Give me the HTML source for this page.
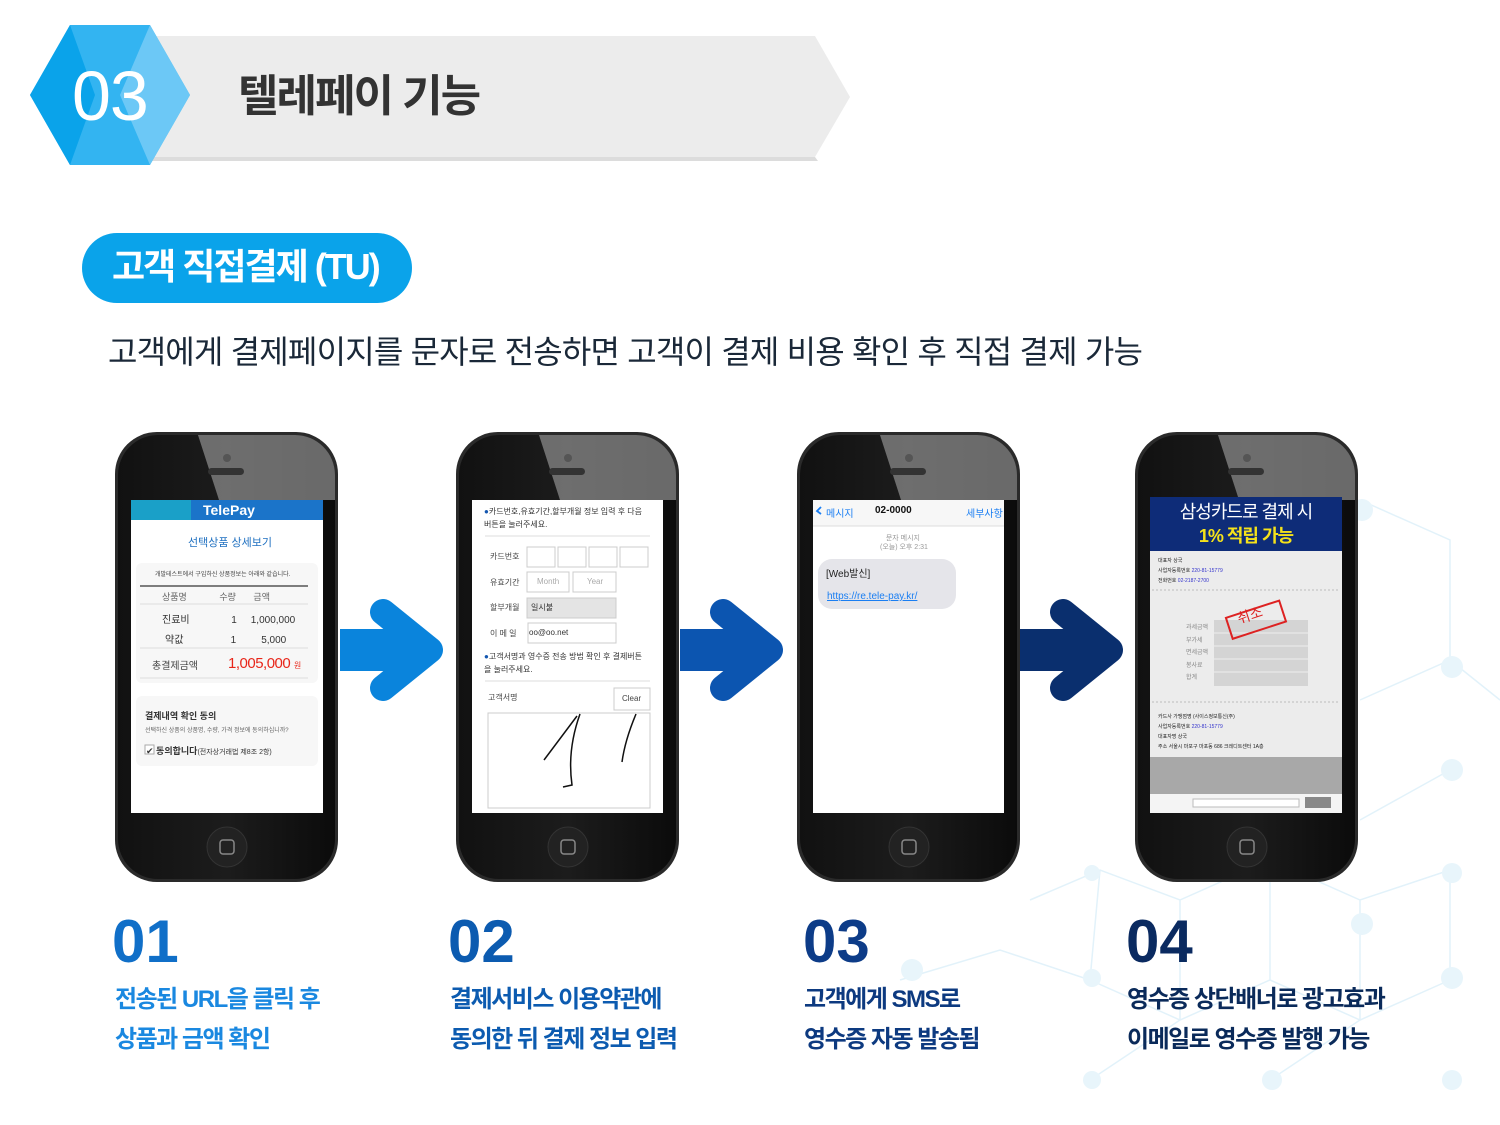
<!DOCTYPE html>
<html><head><meta charset="utf-8"><style>
body{margin:0;width:1500px;height:1125px;background:#fff;position:relative;overflow:hidden;font-family:"Liberation Sans","Noto Sans CJK KR",sans-serif}
.a{position:absolute;white-space:nowrap}
.num{font-weight:900;font-size:60px;letter-spacing:0px;line-height:1}
.lbl{font-size:24px;font-weight:700;line-height:40px;letter-spacing:-1.5px}
</style></head><body>
<svg class="a" style="left:0;top:0" width="1500" height="1125">
<defs>
<linearGradient id="ph" x1="0" y1="0" x2="1" y2="0"><stop offset="0" stop-color="#111"/><stop offset="0.5" stop-color="#1c1c1c"/><stop offset="1" stop-color="#0b0b0b"/></linearGradient>
<clipPath id="pc"><rect x="3" y="3" width="217" height="444" rx="40"/></clipPath>
<g id="phone">
<rect x="0" y="0" width="223" height="450" rx="42" fill="#2a2a2a"/>
<rect x="3" y="3" width="217" height="444" rx="40" fill="url(#ph)"/>
<polygon points="82,0 230,0 230,68 104,68" fill="#8a8a8a" opacity="0.75" clip-path="url(#pc)"/>
<circle cx="112" cy="26" r="4" fill="#555"/>
<rect x="93" y="36" width="36" height="7" rx="3.5" fill="#333"/>
<circle cx="112" cy="415" r="20" fill="#222" stroke="#333"/>
<rect x="105" y="408" width="14" height="14" rx="3" fill="none" stroke="#888" stroke-width="1.5"/>
</g>
</defs>
<g stroke="#e2f2fa" stroke-width="1.5" fill="none">
<path d="M1030 900 L1100 870 L1180 900 L1270 860 L1360 900 L1450 870 M1090 980 L1180 1020 L1270 980 L1360 1020 L1450 980 M1100 870 L1090 980 M1270 860 L1270 980 M1450 870 L1450 980 M1360 900 L1360 1020 M1180 900 L1180 1020 M1090 1080 L1180 1020 M1270 1080 L1360 1020 M1360 500 L1450 540 L1450 660 L1360 700 M1450 660 L1500 700 M1450 770 L1360 820 M900 980 L1000 950 L1090 980"/>
</g>
<g fill="#e8f5fb">
<circle cx="1452" cy="667" r="11"/><circle cx="1452" cy="770" r="11"/><circle cx="1362" cy="924" r="11"/><circle cx="1452" cy="873" r="10"/><circle cx="1452" cy="978" r="11"/><circle cx="1272" cy="1080" r="10"/><circle cx="1092" cy="1080" r="9"/><circle cx="1092" cy="978" r="9"/><circle cx="1362" cy="510" r="11"/><circle cx="1452" cy="1080" r="10"/><circle cx="912" cy="970" r="11"/><circle cx="1092" cy="873" r="8"/>
</g>
<polygon points="150,36 815,36 850,97 815,157 150,157" fill="#ececec"/>
<polygon points="152,157 815,157 818,161 152,161" fill="#dcdcdc"/>
<polygon points="70,25 150,25 190,95 150,165 70,165 30,95" fill="#33b4f1"/>
<polygon points="70,25 30,95 70,165 95,95" fill="#0aa3ea"/>
<polygon points="150,25 190,95 150,165 120,95" fill="#6cc8f6"/>
<rect x="82" y="233" width="330" height="70" rx="35" fill="#0aa3ea"/>
<use href="#phone" x="115" y="432"/>
<use href="#phone" x="456" y="432"/>
<use href="#phone" x="797" y="432"/>
<use href="#phone" x="1135" y="432"/>
<rect x="131" y="500" width="192" height="313" fill="#fff"/>
<rect x="131" y="500" width="192" height="20" fill="#1b74c9"/>
<rect x="131" y="500" width="60" height="20" fill="#1aa0c8"/>
<rect x="136" y="563" width="182" height="120" rx="6" fill="#f7f7f7"/>
<rect x="136" y="696" width="182" height="70" rx="6" fill="#f7f7f7"/>
<line x1="140" y1="586" x2="308" y2="586" stroke="#555" stroke-width="1.5"/>
<line x1="140" y1="604" x2="308" y2="604" stroke="#ddd"/>
<line x1="140" y1="648" x2="308" y2="648" stroke="#ddd"/>
<line x1="140" y1="678" x2="308" y2="678" stroke="#ddd"/>
<rect x="145" y="745" width="9" height="9" fill="#fff" stroke="#aaa"/>
<rect x="472" y="500" width="191" height="313" fill="#fff"/>
<line x1="485" y1="536" x2="650" y2="536" stroke="#ddd"/>
<g fill="#fff" stroke="#ccc"><rect x="527" y="547" width="28" height="20"/><rect x="558" y="547" width="28" height="20"/><rect x="589" y="547" width="28" height="20"/><rect x="620" y="547" width="28" height="20"/>
<rect x="527" y="572" width="42" height="20"/><rect x="573" y="572" width="43" height="20"/><rect x="528" y="623" width="88" height="20"/><rect x="614" y="688" width="36" height="22"/><rect x="488" y="713" width="162" height="95"/></g>
<rect x="527" y="598" width="89" height="20" fill="#e4e4e4" stroke="#ccc"/>
<line x1="485" y1="681" x2="650" y2="681" stroke="#ddd"/>
<path d="M577 716 L544 760 M580 714 Q567 750 572 785 L563 787 M636 714 Q625 740 622 762" stroke="#111" stroke-width="1.5" fill="none"/>
<rect x="813" y="500" width="191" height="313" fill="#fff"/>
<rect x="813" y="500" width="191" height="26" fill="#f7f7f7"/>
<line x1="813" y1="526" x2="1004" y2="526" stroke="#ddd"/>
<rect x="818" y="559" width="138" height="50" rx="14" fill="#e5e5ea"/>
<path d="M821 514 L817 511 L821 507" stroke="#1a7ef2" stroke-width="1.8" fill="none"/>
<rect x="1150" y="497" width="192" height="316" fill="#ececec"/>
<rect x="1150" y="497" width="192" height="54" fill="#0e2c78"/>
<rect x="1150" y="757" width="192" height="37" fill="#a8a8a8"/>
<rect x="1150" y="794" width="192" height="19" fill="#f4f4f4"/>
<rect x="1193" y="799" width="106" height="8" fill="#fff" stroke="#bbb"/>
<rect x="1305" y="797" width="26" height="11" fill="#888"/>
<rect x="1214" y="620" width="94" height="66" fill="#d4d4d4"/>
<g stroke="#eee" stroke-width="1"><line x1="1214" y1="633" x2="1308" y2="633"/><line x1="1214" y1="646" x2="1308" y2="646"/><line x1="1214" y1="659" x2="1308" y2="659"/><line x1="1214" y1="672" x2="1308" y2="672"/></g>
<line x1="1152" y1="590" x2="1340" y2="590" stroke="#bbb" stroke-dasharray="2,2"/>
<line x1="1152" y1="702" x2="1340" y2="702" stroke="#bbb" stroke-dasharray="2,2"/>
<g transform="rotate(-18 1255 620)"><rect x="1228" y="609" width="56" height="22" fill="none" stroke="#d22" stroke-width="2"/></g>
<g stroke-linecap="round" stroke-linejoin="round" fill="none" stroke-width="26">
<path d="M383 612 L430 650 L383 688" stroke="#0a84dc"/>
<path d="M723 612 L770 650 L723 688" stroke="#0c55b0"/>
<path d="M1063 612 L1110 650 L1063 688" stroke="#0a2f6e"/>
</g>
<rect x="340" y="629" width="80" height="42" fill="#0a84dc"/>
<rect x="680" y="629" width="80" height="42" fill="#0c55b0"/>
<rect x="1020" y="629" width="80" height="42" fill="#0a2f6e"/>
</svg>

<div class="a" style="left:72px;top:58px;font-size:70px;color:#fff;letter-spacing:-1px;line-height:76px">03</div>
<div class="a" style="left:238px;top:70px;font-size:44px;font-weight:700;color:#333;letter-spacing:-2px;line-height:54px">텔레페이 기능</div>
<div class="a" style="left:112px;top:244px;font-size:36px;font-weight:700;color:#fff;letter-spacing:-2px;line-height:46px">고객 직접결제 (TU)</div>
<div class="a" style="left:108px;top:330px;font-size:32px;color:#1a2838;letter-spacing:-0.8px;line-height:44px">고객에게 결제페이지를 문자로 전송하면 고객이 결제 비용 확인 후 직접 결제 가능</div>

<div class="a" style="left:203px;top:500px;font-size:14px;font-weight:700;color:#fff;line-height:20px">TelePay</div>
<div class="a" style="left:188px;top:536px;font-size:11px;color:#1f70c0;line-height:14px">선택상품 상세보기</div>
<div class="a" style="left:155px;top:569px;font-size:6px;color:#444">개발테스트에서 구입하신 상품정보는 아래와 같습니다.</div>
<div class="a" style="left:162px;top:590px;font-size:9px;color:#666">상품명&nbsp;&nbsp;&nbsp;&nbsp;&nbsp;&nbsp;&nbsp;&nbsp;&nbsp;&nbsp;&nbsp;&nbsp;&nbsp;수량&nbsp;&nbsp;&nbsp;&nbsp;&nbsp;&nbsp;&nbsp;금액</div>
<div class="a" style="left:162px;top:611px;font-size:10px;color:#333">진료비&nbsp;&nbsp;&nbsp;&nbsp;&nbsp;&nbsp;&nbsp;&nbsp;&nbsp;&nbsp;&nbsp;&nbsp;&nbsp;&nbsp;&nbsp;1&nbsp;&nbsp;&nbsp;&nbsp;&nbsp;1,000,000</div>
<div class="a" style="left:165px;top:631px;font-size:10px;color:#333">약값&nbsp;&nbsp;&nbsp;&nbsp;&nbsp;&nbsp;&nbsp;&nbsp;&nbsp;&nbsp;&nbsp;&nbsp;&nbsp;&nbsp;&nbsp;&nbsp;&nbsp;1&nbsp;&nbsp;&nbsp;&nbsp;&nbsp;&nbsp;&nbsp;&nbsp;&nbsp;5,000</div>
<div class="a" style="left:152px;top:657px;font-size:10px;color:#444">총결제금액</div>
<div class="a" style="left:228px;top:655px;font-size:15px;color:#e8261a;letter-spacing:-0.5px">1,005,000 <span style="font-size:8px">원</span></div>
<div class="a" style="left:145px;top:709px;font-size:9px;font-weight:700;color:#333">결제내역 확인 동의</div>
<div class="a" style="left:145px;top:725px;font-size:6px;color:#666">선택하신 상품의 상품명, 수량, 가격 정보에 동의하십니까?</div>
<div class="a" style="left:146px;top:744px;font-size:9px;color:#333">✔ <b>동의합니다</b><span style="font-size:7px">(전자상거래법 제8조 2항)</span></div>

<div class="a" style="left:484px;top:505px;font-size:8px;color:#333;line-height:13px"><span style="color:#1457b0">●</span>카드번호,유효기간,할부개월 정보 입력 후 다음<br>버튼을 눌러주세요.</div>
<div class="a" style="left:490px;top:551px;font-size:8px;color:#444">카드번호</div>
<div class="a" style="left:490px;top:577px;font-size:8px;color:#444">유효기간</div>
<div class="a" style="left:537px;top:577px;font-size:8px;color:#aaa">Month</div>
<div class="a" style="left:587px;top:577px;font-size:8px;color:#aaa">Year</div>
<div class="a" style="left:490px;top:602px;font-size:8px;color:#444">할부개월</div>
<div class="a" style="left:531px;top:602px;font-size:8px;color:#333">일시불</div>
<div class="a" style="left:490px;top:628px;font-size:8px;color:#444">이 메 일</div>
<div class="a" style="left:529px;top:628px;font-size:8px;color:#333">oo@oo.net</div>
<div class="a" style="left:484px;top:650px;font-size:8px;color:#333;line-height:13px"><span style="color:#1457b0">●</span>고객서명과 영수증 전송 방법 확인 후 결제버튼<br>을 눌러주세요.</div>
<div class="a" style="left:488px;top:692px;font-size:8px;color:#444">고객서명</div>
<div class="a" style="left:622px;top:694px;font-size:8px;color:#444">Clear</div>

<div class="a" style="left:826px;top:505px;font-size:10px;color:#1a7ef2">메시지</div>
<div class="a" style="left:875px;top:505px;font-size:10px;font-weight:700;color:#111">02-0000</div>
<div class="a" style="left:966px;top:505px;font-size:10px;color:#1a7ef2">세부사항</div>
<div class="a" style="left:880px;top:534px;font-size:7px;color:#999;line-height:9px">&nbsp;&nbsp;&nbsp;문자 메시지<br>(오늘) 오후 2:31</div>
<div class="a" style="left:826px;top:565px;font-size:10px;color:#222">[Web발신]</div>
<div class="a" style="left:827px;top:591px;font-size:10px;color:#1a7ef2;text-decoration:underline">https://re.tele-pay.kr/</div>

<div class="a" style="left:1150px;top:500px;width:192px;text-align:center;font-size:18px;color:#fff;line-height:24px;letter-spacing:-1px">삼성카드로 결제 시<br><b style="color:#f5e21a">1% 적립 가능</b></div>
<div class="a" style="left:1237px;top:605px;font-size:14px;color:#d22;transform:rotate(-18deg)">취소</div>
<div class="a" style="left:1158px;top:556px;font-size:5px;color:#222;line-height:10px">대표자 상국<br>사업자등록번호 <span style="color:#33c">220-81-15779</span><br>전화번호 <span style="color:#33c">02-2187-2700</span></div>
<div class="a" style="left:1158px;top:712px;font-size:5px;color:#222;line-height:10px">카드사 가맹점명 (사이스정보통신(주)<br>사업자등록번호 <span style="color:#33c">220-81-15779</span><br>대표자명 상국<br>주소 서울시 마포구 마포동 686 크레디트센터 1A층</div>
<div class="a" style="left:1186px;top:622px;font-size:6px;color:#888;line-height:12.5px">과세금액<br>부가세<br>면세금액<br>봉사료<br>합계</div>

<div class="a num" style="left:112px;top:912px;color:#106fc8">01</div>
<div class="a lbl" style="left:115px;top:980px;color:#1a88e0">전송된 URL을 클릭 후<br>상품과 금액 확인</div>
<div class="a num" style="left:448px;top:912px;color:#0c5bb0">02</div>
<div class="a lbl" style="left:450px;top:980px;color:#0c5bb0">결제서비스 이용약관에<br>동의한 뒤 결제 정보 입력</div>
<div class="a num" style="left:803px;top:912px;color:#0d3c88">03</div>
<div class="a lbl" style="left:804px;top:980px;color:#0d3a80">고객에게 SMS로<br>영수증 자동 발송됨</div>
<div class="a num" style="left:1126px;top:912px;color:#0a2a60">04</div>
<div class="a lbl" style="left:1127px;top:980px;color:#0a2a5a">영수증 상단배너로 광고효과<br>이메일로 영수증 발행 가능</div>
</body></html>
